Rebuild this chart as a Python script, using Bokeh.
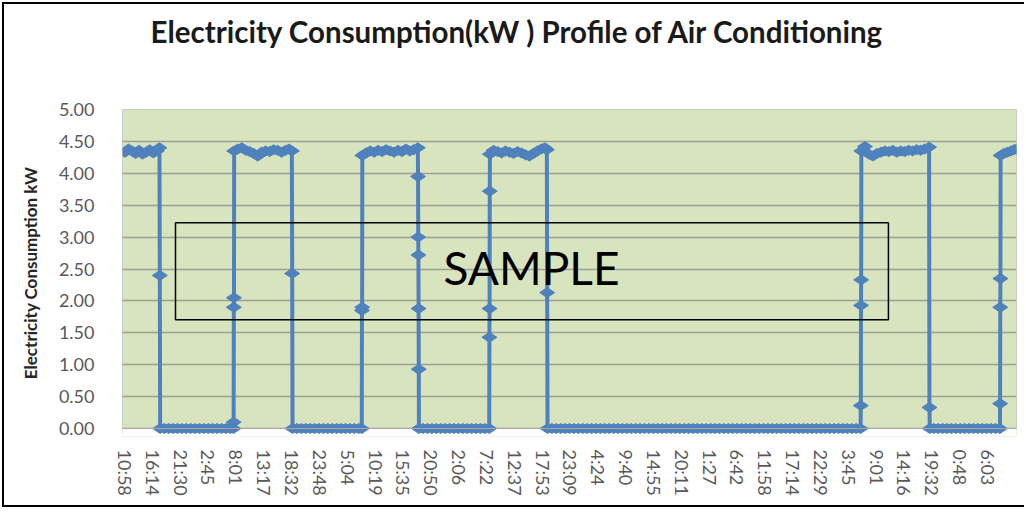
import math
from bokeh.plotting import figure
from bokeh.models import (Range1d, FixedTicker, NumeralTickFormatter, BoxAnnotation, Label,
                          Title)
from bokeh.embed import file_html
from bokeh.resources import INLINE

# ---------------- data ----------------
title_text = "Electricity Consumption(kW  ) Profile of Air Conditioning"
y_title = "Electricity Consumption kW"

tick_labels = ["10:58", "16:14", "21:30", "2:45", "8:01", "13:17", "18:32", "23:48",
               "5:04", "10:19", "15:35", "20:50", "2:06", "7:22", "12:37", "17:53",
               "23:09", "4:24", "9:40", "14:55", "20:11", "1:27", "6:42", "11:58",
               "17:14", "22:29", "3:45", "9:01", "14:16", "19:32", "0:48", "6:03"]

y_ticks = [0.0, 0.5, 1.0, 1.5, 2.0, 2.5, 3.0, 3.5, 4.0, 4.5, 5.0]

# minutes elapsed since the first sample (10:58, day 1)
minutes = [
    0, 40, 80, 120, 160, 200, 240, 280, 320, 360, 391,
    395,
    399, 445, 495, 545, 595, 645, 695, 745, 795, 845, 895, 945,
    995, 1045, 1095, 1145, 1195, 1230,
    1232, 1234, 1236,
    1238, 1280, 1325, 1370, 1415, 1460, 1505, 1550, 1595, 1640, 1685, 1730, 1775, 1820, 1860, 1892,
    1896,
    1900, 1950, 2000, 2050, 2100, 2150, 2200, 2250, 2300, 2350, 2400, 2450,
    2500, 2550, 2600, 2650, 2685,
    2687, 2689,
    2691, 2735, 2780, 2825, 2870, 2915, 2960, 3005, 3050, 3095, 3140, 3185, 3230, 3275, 3320,
    3323, 3325, 3327, 3329, 3331,
    3333, 3380, 3430, 3480, 3530, 3580, 3630, 3680, 3730, 3780, 3830, 3880,
    3930, 3980, 4030, 4080, 4130,
    4132, 4134, 4136,
    4138, 4180, 4225, 4270, 4315, 4360, 4405, 4450, 4495, 4540, 4585, 4630, 4675, 4720, 4760, 4783,
    4787,
    4791, 4840, 4890, 4940, 4990, 5040, 5090, 5140, 5190, 5240, 5290, 5340,
    5390, 5440, 5490, 5540, 5590, 5640, 5690, 5740, 5790, 5840, 5890, 5940,
    5990, 6040, 6090, 6140, 6190, 6240, 6290, 6340, 6390, 6440, 6490, 6540,
    6590, 6640, 6690, 6740, 6790, 6840, 6890, 6940, 6990, 7040, 7090, 7140,
    7190, 7240, 7290, 7340, 7390, 7440, 7490, 7540, 7590, 7640, 7690, 7740,
    7790, 7840, 7890, 7940, 7990, 8040, 8090, 8140, 8190, 8240, 8290, 8340,
    8343, 8345, 8347,
    8349, 8390, 8435, 8480, 8525, 8570, 8615, 8660, 8705, 8750, 8795, 8840, 8885, 8930, 8975,
    9020, 9065, 9117,
    9121,
    9125, 9170, 9220, 9270, 9320, 9370, 9420, 9470, 9520, 9570, 9620, 9670,
    9720, 9770, 9820, 9870, 9920,
    9922, 9924, 9926,
    9928, 9965, 10005, 10045, 10080, 10108,
]

kw = [
    4.33, 4.38, 4.35, 4.31, 4.36, 4.30, 4.33, 4.37, 4.32, 4.35, 4.40,
    2.40,
    0.00, 0.00, 0.00, 0.00, 0.00, 0.00, 0.00, 0.00, 0.00, 0.00, 0.00, 0.00,
    0.00, 0.00, 0.00, 0.00, 0.00, 0.00,
    0.10, 1.90, 2.05,
    4.35, 4.38, 4.40, 4.36, 4.34, 4.31, 4.27, 4.33, 4.35, 4.34, 4.37, 4.36, 4.33, 4.36, 4.38, 4.35,
    2.43,
    0.00, 0.00, 0.00, 0.00, 0.00, 0.00, 0.00, 0.00, 0.00, 0.00, 0.00, 0.00,
    0.00, 0.00, 0.00, 0.00, 0.00,
    1.85, 1.90,
    4.28, 4.32, 4.35, 4.33, 4.36, 4.34, 4.37, 4.35, 4.33, 4.36, 4.34, 4.38, 4.35, 4.37, 4.40,
    3.95, 3.00, 2.72, 1.88, 0.93,
    0.00, 0.00, 0.00, 0.00, 0.00, 0.00, 0.00, 0.00, 0.00, 0.00, 0.00, 0.00,
    0.00, 0.00, 0.00, 0.00, 0.00,
    1.43, 1.88, 3.72,
    4.30, 4.36, 4.34, 4.32, 4.35, 4.33, 4.31, 4.34, 4.32, 4.29, 4.27, 4.31, 4.35, 4.38, 4.40, 4.37,
    2.13,
    0.00, 0.00, 0.00, 0.00, 0.00, 0.00, 0.00, 0.00, 0.00, 0.00, 0.00, 0.00,
    0.00, 0.00, 0.00, 0.00, 0.00, 0.00, 0.00, 0.00, 0.00, 0.00, 0.00, 0.00,
    0.00, 0.00, 0.00, 0.00, 0.00, 0.00, 0.00, 0.00, 0.00, 0.00, 0.00, 0.00,
    0.00, 0.00, 0.00, 0.00, 0.00, 0.00, 0.00, 0.00, 0.00, 0.00, 0.00, 0.00,
    0.00, 0.00, 0.00, 0.00, 0.00, 0.00, 0.00, 0.00, 0.00, 0.00, 0.00, 0.00,
    0.00, 0.00, 0.00, 0.00, 0.00, 0.00, 0.00, 0.00, 0.00, 0.00, 0.00, 0.00,
    0.36, 1.93, 2.33,
    4.35, 4.42, 4.30, 4.27, 4.31, 4.33, 4.35, 4.34, 4.36, 4.33, 4.35, 4.34, 4.36, 4.35, 4.37,
    4.36, 4.38, 4.41,
    0.33,
    0.00, 0.00, 0.00, 0.00, 0.00, 0.00, 0.00, 0.00, 0.00, 0.00, 0.00, 0.00,
    0.00, 0.00, 0.00, 0.00, 0.00,
    0.39, 1.90, 2.35,
    4.28, 4.31, 4.33, 4.35, 4.37, 4.38,
]
assert len(minutes) == len(kw)


def elapsed_from_clock(labels):
    """Minutes elapsed at each axis label, following the clock across midnights."""
    out, total, prev = [], 0, None
    for s in labels:
        h, m = (int(v) for v in s.split(":"))
        cur = h * 60 + m
        if prev is not None:
            total += (cur - prev) % 1440
        out.append(total)
        prev = cur
    return out


tick_minutes = elapsed_from_clock(tick_labels)

# ---------------- styling ----------------
BLUE = "#4F81BD"
GREEN = "#D7E4BD"
FONT = "Lato"

p = figure(width=1022, height=505, output_backend="svg", toolbar_location=None,
           title=None, x_range=Range1d(-28, 10108), y_range=Range1d(-0.125, 5.0),
           min_border_left=118, min_border_right=10, min_border_top=105, min_border_bottom=73,
           background_fill_color=GREEN, border_fill_color="white", outline_line_color=None)
p.styles = {"margin-left": "2px", "margin-top": "2px",
            "border-left": "2px solid black", "border-top": "2px solid black",
            "border-bottom": "2px solid black"}

# spacer panel between the frame and the title (keeps the title near the top edge)
p.add_layout(Title(text="\u00a0", text_font=FONT, text_font_size="13px", standoff=43),
             "above")
p.add_layout(Title(text=title_text, align="left", offset=28, standoff=0,
                   text_font=FONT, text_font_style="bold", text_font_size="29.5px",
                   text_color="#1a1a1a"), "above")

# white strip below zero (lets the zero markers show in full)
p.add_layout(BoxAnnotation(top=0, fill_color="white", fill_alpha=1.0, line_color=None,
                           level="underlay"))

p.xgrid.visible = False
p.ygrid.ticker = FixedTicker(ticks=y_ticks)
p.ygrid.grid_line_color = "#9c9f97"
p.ygrid.grid_line_width = 1.5

p.yaxis.ticker = FixedTicker(ticks=y_ticks)
p.yaxis.formatter = NumeralTickFormatter(format="0.00")
p.xaxis.ticker = FixedTicker(ticks=tick_minutes)
p.xaxis.major_label_overrides = {m: s for m, s in zip(tick_minutes, tick_labels)}
p.xaxis.major_label_orientation = "vertical"

for ax in (p.xaxis[0], p.yaxis[0]):
    ax.axis_line_color = None
    ax.major_tick_line_color = None
    ax.minor_tick_line_color = None
    ax.major_label_text_font = FONT
    ax.major_label_text_font_size = "18px"
    ax.major_label_text_color = "#595959"
p.yaxis.major_label_standoff = 22
p.xaxis.major_label_standoff = 7

p.yaxis.axis_label = y_title
p.yaxis.axis_label_text_font = FONT
p.yaxis.axis_label_text_font_style = "bold"
p.yaxis.axis_label_text_font_size = "17px"
p.yaxis.axis_label_text_color = "#262626"
p.yaxis.axis_label_standoff = 15

# plot-area outline
p.add_layout(BoxAnnotation(bottom=0, top=5, fill_alpha=0, line_color="#a6a6a6",
                           line_alpha=1.0, line_width=1))

p.line(minutes, kw, line_color=BLUE, line_width=4)
p.scatter(minutes, kw, marker="diamond", angle=math.pi / 2, size=15,
          fill_color=BLUE, line_color=BLUE)

# SAMPLE watermark
p.add_layout(BoxAnnotation(left=573, right=8656, bottom=1.704, top=3.224, fill_alpha=0,
                           line_color="black", line_alpha=1.0, line_width=1.5))
p.add_layout(Label(x=4609, y=2.53, text="SAMPLE", text_font=FONT, text_font_size="46px",
                   text_align="center", text_baseline="middle", text_color="black"))

open("out.html", "w").write(file_html(p, INLINE))
